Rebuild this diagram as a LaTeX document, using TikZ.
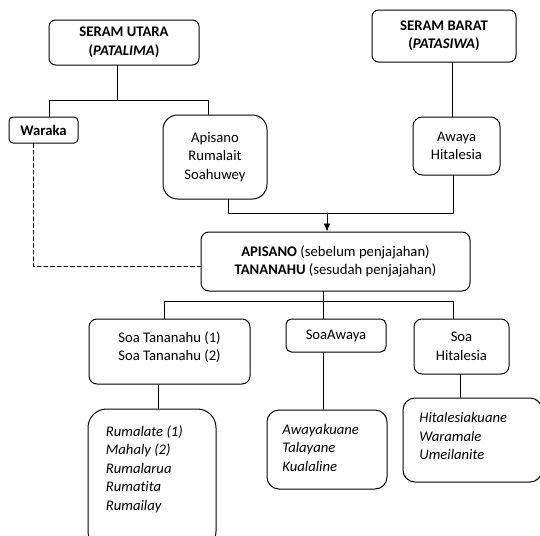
\documentclass[tikz,border=0pt]{standalone}
\usepackage{fontspec}
\setmainfont{Carlito}[Ligatures=CommonOff]
\usetikzlibrary{arrows.meta}

\begin{document}
\begin{tikzpicture}[line cap=round,line join=round,line width=0.6pt,x=0.75pt,y=-0.75pt,
	box/.style={draw,line width=0.75pt,inner sep=0pt,align=center,font=\fontsize{11}{13.9}\selectfont},
	lbl/.style={inner sep=0pt,align=center,font=\fontsize{11}{13.9}\selectfont},
	txt/.style={inner sep=0pt,align=left,font=\fontsize{11}{13.9}\selectfont\itshape}]
						\useasboundingbox (0,0) rectangle (540,536);
						\node[box,rounded corners=5pt,minimum width=112.5pt,minimum height=33.75pt] (utara) at (124,42.5) {\textbf{SERAM UTARA}\\ \textbf{(\textit{PATALIMA})}};
						\node[box,rounded corners=5pt,minimum width=108pt,minimum height=39pt] (barat) at (444,36) {\textbf{SERAM BARAT}\\ \textbf{(\textit{PATASIWA})}};
						\node[box,rounded corners=3pt,minimum width=51.75pt,minimum height=19.5pt] (waraka) at (43.5,130) {\textbf{Waraka}};
						\node[box,rounded corners=11pt,minimum width=78pt,minimum height=63pt] (apisano) at (215,157) {Apisano\\ Rumalait\\ Soahuwey};
						\node[box,rounded corners=7pt,minimum width=65.25pt,minimum height=43.5pt] (awaya) at (456.5,146) {Awaya\\ Hitalesia};
						\node[box,rounded corners=6pt,minimum width=201.75pt,minimum height=44.25pt] (main) at (335.5,261.5) {\textbf{APISANO} (sebelum penjajahan)\\ \textbf{TANANAHU} (sesudah penjajahan)};
						\node[box,rounded corners=6pt,minimum width=120.75pt,minimum height=48.75pt] (tananahu) at (169.5,351.5) {};
						\node[lbl] (tananahutxt) at (169.5,347) {Soa Tananahu (1)\\ Soa Tananahu (2)};
						\node[box,rounded corners=4pt,minimum width=75pt,minimum height=24.75pt] (soaawaya) at (336,335.5) {SoaAwaya};
						\node[box,rounded corners=6pt,minimum width=71.25pt,minimum height=41.25pt] (soahit) at (461.5,346.5) {Soa\\ Hitalesia};
						\node[box,rounded corners=14pt,minimum width=96pt,minimum height=105.75pt] (rumalate) at (152,479.5) {};
						\node[txt,anchor=north west] (rumalatetxt) at (105.5,425) {Rumalate (1)\\ Mahaly (2)\\ Rumalarua\\ Rumatita\\ Rumailay};
						\node[box,rounded corners=9pt,minimum width=90pt,minimum height=59.25pt] (awayak) at (327,449.5) {};
						\node[txt,anchor=north west] (awayaktxt) at (282,423.5) {Awayakuane\\ Talayane\\ Kualaline};
						\node[box,rounded corners=9pt,minimum width=104.25pt,minimum height=63pt] (hitak) at (472.5,440) {};
						\node[txt,anchor=north west] (hitaktxt) at (419,412) {Hitalesiakuane\\ Waramale\\ Umeilanite};
						\coordinate (uj) at (117,100);
						\coordinate (ul) at (49,100);
						\coordinate (ur) at (208,100);
						\coordinate (bj) at (452,90);
						\coordinate (ml) at (228,213);
						\coordinate (mr) at (453,213);
						\coordinate (mj) at (327,213);
						\coordinate (dw) at (33,266);
						\coordinate (ll) at (164,301);
						\coordinate (lr) at (453,301);
						\coordinate (lj) at (323,301);
						\coordinate (ta) at (158,400);
						\coordinate (aw) at (323,380);
						\coordinate (hi) at (460,390);
						\draw (uj |- utara.south) -- (uj);
						\draw (ul |- waraka.north) -- (ul) -- (ur) -- (ur |- apisano.north);
						\draw (bj |- barat.south) -- (bj |- awaya.north);
						\draw (ml |- apisano.south) -- (ml) -- (mr) -- (mr |- awaya.south);
						\draw[-{Latex[length=6pt,width=5pt]}] (mj) -- (mj |- main.north);
						\draw[dash pattern=on 3pt off 2pt] (dw |- waraka.south) -- (dw) -- (dw -| main.west);
						\draw (lj |- main.south) -- (lj |- soaawaya.north);
						\draw (ll |- tananahu.north) -- (ll) -- (lr) -- (lr |- soahit.north);
						\foreach \c/\a/\b in {ta/tananahu/rumalate,aw/soaawaya/awayak,hi/soahit/hitak}
						\draw (\c |- \a.south) -- (\c |- \b.north);
					\end{tikzpicture}
\end{document}
